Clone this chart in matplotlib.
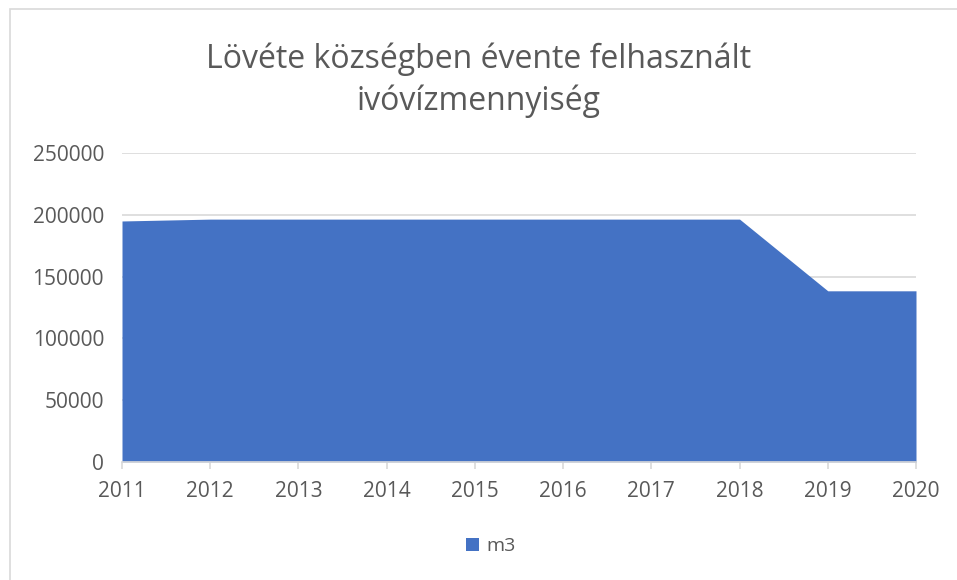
import matplotlib.pyplot as plt
from matplotlib.patches import Rectangle

# ----------- DATA ------------
years = [2011, 2012, 2013, 2014, 2015, 2016, 2017, 2018, 2019, 2020]
m3 = [195000, 196500, 196500, 196500, 196500, 196500, 196500, 196500, 138500, 138500]
y_ticks = [0, 50000, 100000, 150000, 200000, 250000]

TITLE = "Lövéte községben évente felhasznált\nivóvízmennyiség"
FILL = "#4472C4"
TEXT = "#595959"
GRID = "#D9D9D9"

plt.rcParams["font.family"] = ["Open Sans", "DejaVu Sans"]

fig = plt.figure(figsize=(9.57, 5.8), dpi=100)
ax = fig.add_axes([122 / 957, 1 - 462 / 580, (916 - 122) / 957, (462 - 153) / 580])

ax.fill_between(years, m3, 0, color=FILL, linewidth=0, label="m3", zorder=2)

ax.set_xlim(years[0], years[-1])
ax.set_ylim(0, 250000)
ax.set_yticks(y_ticks)
ax.set_yticklabels([str(v) for v in y_ticks])
ax.set_xticks(years)
ax.set_xticklabels([str(y) for y in years])

ax.grid(axis="y", color=GRID, linewidth=1.2, zorder=0)
for s in ["top", "right", "left"]:
    ax.spines[s].set_visible(False)
ax.spines["bottom"].set_color(GRID)
ax.spines["bottom"].set_linewidth(1.2)
ax.spines["bottom"].set_zorder(3)
ax.tick_params(axis="y", length=0, labelsize=15, colors=TEXT, pad=13)
ax.tick_params(axis="x", length=5, width=1.2, color=GRID, labelsize=15,
               labelcolor=TEXT, pad=9)

fig.text(0.5, 0.862, TITLE, ha="center", va="center", fontsize=23, color=TEXT,
         linespacing=1.35)

leg = fig.legend(loc="center", bbox_to_anchor=(0.513, 0.058), frameon=False,
                 fontsize=14, handlelength=0.65, handleheight=0.65, handletextpad=0.4)
for t in leg.get_texts():
    t.set_color(TEXT)

# chart border
fig.patches.append(Rectangle((10 / 957, -0.1), 1.0, 1.1 - 9 / 580, transform=fig.transFigure,
                             fill=False, edgecolor=GRID, linewidth=1.2))

fig.savefig("out.png", dpi=100)
